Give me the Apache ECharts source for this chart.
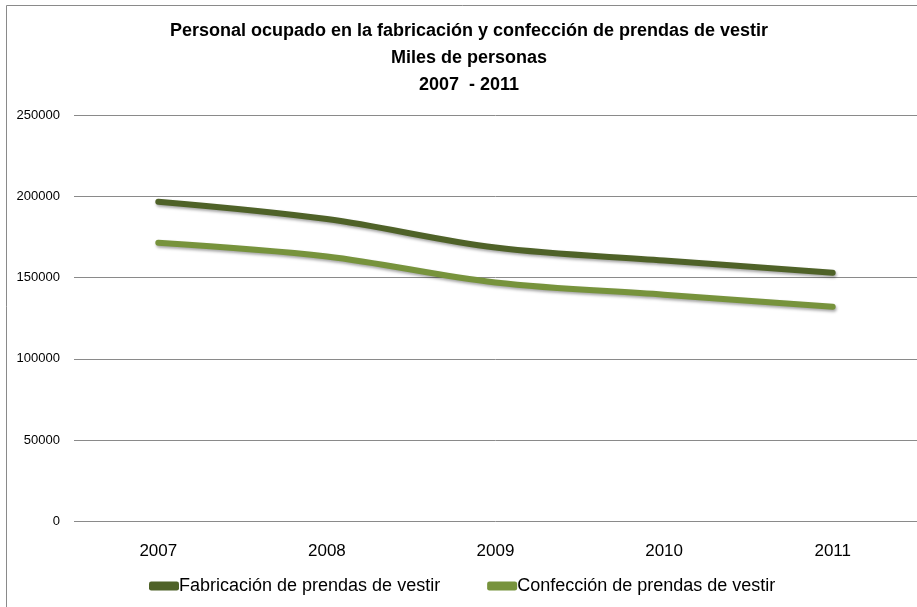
<!DOCTYPE html>
<html><head><meta charset="utf-8">
<script src="https://cdn.jsdelivr.net/npm/echarts@6/dist/echarts.min.js"></script>
<style>html,body{margin:0;padding:0;background:#fff}#c{width:917px;height:607px}</style>
</head><body><div id="c"></div>
<script>
var years = ['2007', '2008', '2009', '2010', '2011'];
var fabricacion = [196700, 186000, 168500, 160500, 153000];
var confeccion = [171500, 163000, 147000, 139500, 132100];
var seriesNames = ['Fabricación de prendas de vestir', 'Confección de prendas de vestir'];
var titleLines = ['Personal ocupado en la fabricación y confección de prendas de vestir', 'Miles de personas', '2007  - 2011'];

var font = "'Liberation Sans', sans-serif";
var chart = echarts.init(document.getElementById('c'));
function lineSeries(name, data, color) {
  return {
    name: name, type: 'line', data: data, smooth: 0.35,
    symbol: 'none', showSymbol: false,
    lineStyle: { width: 6, color: color, cap: 'round', join: 'round',
      shadowColor: 'rgba(0,0,0,0.35)', shadowBlur: 3, shadowOffsetX: 1, shadowOffsetY: 2 },
    itemStyle: { color: color }
  };
}
chart.setOption({
  animation: false,
  backgroundColor: '#fff',
  graphic: [{ type: 'rect', shape: { x: 6.5, y: 5.5, width: 1000, height: 1000 },
    style: { fill: 'none', stroke: '#8a8a8a', lineWidth: 1 }, silent: true }],
  title: {
    text: titleLines.join('\n'), left: 464, top: 13, textAlign: 'center',
    textStyle: { fontFamily: font, fontWeight: 'bold', fontSize: 18, lineHeight: 27, color: '#000' }
  },
  legend: {
    data: seriesNames, left: 149, top: 577, padding: 0, itemWidth: 30, itemHeight: 9, itemGap: 47,
    icon: 'roundRect',
    textStyle: { fontFamily: font, fontSize: 18, color: '#000', padding: [0, 0, 0, -5] }
  },
  grid: { left: 74, right: 0, top: 115, bottom: 85.5, containLabel: false },
  xAxis: {
    type: 'category', data: years, boundaryGap: true,
    axisLine: { show: false }, axisTick: { show: false },
    axisLabel: { fontFamily: font, fontSize: 17, color: '#000', margin: 21 }
  },
  yAxis: {
    type: 'value', min: 0, max: 250000, interval: 50000,
    axisLine: { show: false }, axisTick: { show: false },
    splitLine: { lineStyle: { color: '#8a8a8a', width: 1 } },
    axisLabel: { fontFamily: font, fontSize: 13, color: '#000', margin: 14,
      formatter: function (v) { return String(v); } }
  },
  series: [lineSeries(seriesNames[0], fabricacion, '#4F6228'), lineSeries(seriesNames[1], confeccion, '#77933C')]
});
</script></body></html>
